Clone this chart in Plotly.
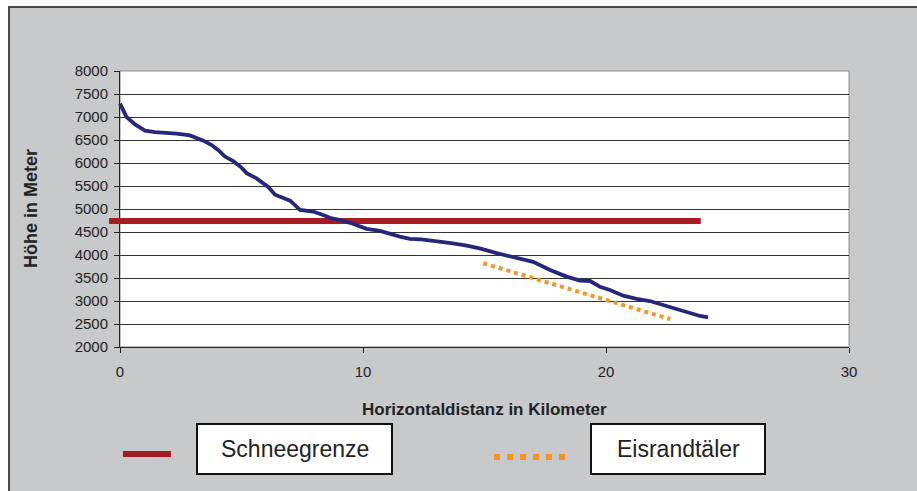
import plotly.graph_objects as go

W, H = 917, 491

# ---- data ----
dist_km = [0.0, 0.27, 0.62, 1.03, 1.44, 1.9, 2.33, 2.88, 3.43, 3.77, 4.05, 4.32, 4.66,
           5.0, 5.21, 5.62, 5.9, 6.1, 6.38, 6.7, 7.0, 7.41, 7.95, 8.3, 8.64, 9.05,
           9.47, 10.15, 10.7, 11.52, 11.93, 12.4, 12.9, 13.7, 14.27, 14.8, 15.5,
           16.3, 17.0, 17.7, 18.38, 18.93, 19.34, 19.75, 20.16, 20.71, 21.26,
           21.8, 22.36, 22.9, 23.46, 23.87, 24.2]
hoehe_m = [7290, 7000, 6840, 6705, 6670, 6665, 6640, 6600, 6485, 6390, 6280, 6140, 6040,
           5900, 5780, 5665, 5560, 5480, 5310, 5250, 5180, 4980, 4945, 4880, 4810, 4760,
           4700, 4570, 4525, 4400, 4350, 4340, 4315, 4255, 4205, 4145, 4040,
           3945, 3850, 3675, 3530, 3445, 3435, 3310, 3240, 3115, 3045,
           3000, 2915, 2825, 2730, 2675, 2645]

schnee_x = [-0.45, 23.9]
schnee_y = [4740, 4740]

eis_x = [14.95, 22.65]
eis_y = [3820, 2605]

x_ticks = [0, 10, 20, 30]
y_ticks = [2000, 2500, 3000, 3500, 4000, 4500, 5000, 5500, 6000, 6500, 7000, 7500, 8000]

x_title = "Horizontaldistanz in Kilometer"
y_title = "Höhe in Meter"
legend_names = ["Schneegrenze", "Eisrandtäler"]

# ---- colours / layout ----
BLUE = "#25287a"
RED = "#a61c24"
ORANGE = "#f7941d"
GRAY = "#c8c9cb"
FONT = "Liberation Sans, Arial, sans-serif"

PL, PR, PT, PB = 120, 849, 71, 347
EXT = 12  # px the Schneegrenze line reaches left of the y axis


def fx(p):
    return p / W


def fy(p):
    return 1 - p / H


kx = (PR - PL) / 30.0
fig = go.Figure()

# dummy trace so the visible xy subplot exists
fig.add_trace(go.Scatter(x=[None], y=[None], xaxis="x", yaxis="y",
                         showlegend=False, hoverinfo="skip"))

fig.add_trace(go.Scatter(x=schnee_x, y=schnee_y, mode="lines", name=legend_names[0],
                         line=dict(color=RED, width=6), xaxis="x2", yaxis="y2",
                         showlegend=False))
fig.add_trace(go.Scatter(x=eis_x, y=eis_y, mode="lines", name=legend_names[1],
                         line=dict(color=ORANGE, width=4, dash="dot"),
                         xaxis="x2", yaxis="y2", showlegend=False))
fig.add_trace(go.Scatter(x=dist_km, y=hoehe_m, mode="lines", name="Profil",
                         line=dict(color=BLUE, width=3.8), xaxis="x2", yaxis="y2",
                         showlegend=False))

axis_font = dict(family=FONT, size=15, color="#222222")

fig.update_layout(
    width=W, height=H,
    margin=dict(l=0, r=0, t=0, b=0, pad=0, autoexpand=False),
    paper_bgcolor="white",
    plot_bgcolor="rgba(0,0,0,0)",
    showlegend=False,
    xaxis=dict(domain=[fx(PL), fx(PR)], range=[0, 30], tickvals=x_ticks,
               showgrid=False, zeroline=False, showline=True, linecolor="#222222",
               linewidth=1, ticks="outside", ticklen=5, tickcolor="#222222",
               tickfont=axis_font, anchor="y", ticklabelstandoff=6, automargin=False),
    yaxis=dict(domain=[fy(PB), fy(PT)], range=[2000, 8000], tickvals=y_ticks,
               showgrid=True, gridcolor="#333333", gridwidth=1, zeroline=False,
               showline=True, linecolor="#222222", linewidth=1, ticks="outside",
               ticklen=5, tickcolor="#222222", tickfont=axis_font, anchor="x",
               ticklabelstandoff=3, automargin=False),
    xaxis2=dict(domain=[fx(PL - EXT), fx(PR)], range=[-EXT / kx, 30], visible=False,
                anchor="y2", fixedrange=True, automargin=False),
    yaxis2=dict(domain=[fy(PB), fy(PT)], range=[2000, 8000], visible=False,
                anchor="x2", fixedrange=True, automargin=False),
)

shapes = [
    # grey chart frame
    dict(type="rect", xref="paper", yref="paper", x0=fx(9), x1=fx(W + 20),
         y0=fy(H + 20), y1=fy(7), fillcolor=GRAY,
         line=dict(color="#4a4a4a", width=2), layer="below"),
    # white plot area
    dict(type="rect", xref="x domain", yref="y domain", x0=0, x1=1, y0=0, y1=1,
         fillcolor="white", line=dict(color="#8c8c8c", width=1), layer="below"),
    # legend samples
    dict(type="line", xref="paper", yref="paper", x0=fx(123), x1=fx(171),
         y0=fy(454), y1=fy(454), line=dict(color=RED, width=6)),
    dict(type="line", xref="paper", yref="paper", x0=fx(494), x1=fx(568),
         y0=fy(457), y1=fy(457), line=dict(color=ORANGE, width=6, dash="6px,7px")),
    # legend boxes
    dict(type="rect", xref="paper", yref="paper", x0=fx(197), x1=fx(392),
         y0=fy(474), y1=fy(424), fillcolor="white", line=dict(color="#111111", width=2)),
    dict(type="rect", xref="paper", yref="paper", x0=fx(591), x1=fx(765),
         y0=fy(474), y1=fy(424), fillcolor="white", line=dict(color="#111111", width=2)),
]
fig.update_layout(shapes=shapes)

ann = [
    dict(text=x_title, x=fx((PL + PR) / 2), y=fy(409), xref="paper", yref="paper",
         showarrow=False, xanchor="center", yanchor="middle",
         font=dict(family=FONT, size=17, color="#222222", weight="bold")),
    dict(text=y_title, x=fx(31), y=fy((PT + PB) / 2), xref="paper", yref="paper",
         showarrow=False, xanchor="center", yanchor="middle", textangle=-90,
         font=dict(family=FONT, size=18, color="#222222", weight="bold")),
    dict(text=legend_names[0], x=fx(294.5), y=fy(449), xref="paper", yref="paper",
         showarrow=False, xanchor="center", yanchor="middle",
         font=dict(family=FONT, size=23, color="#222222")),
    dict(text=legend_names[1], x=fx(678), y=fy(449), xref="paper", yref="paper",
         showarrow=False, xanchor="center", yanchor="middle",
         font=dict(family=FONT, size=23, color="#222222")),
]
fig.update_layout(annotations=ann)

fig.write_html("out.html",
               config={"displayModeBar": False},
               post_script="document.body.style.margin='0';"
                           "document.body.style.overflow='hidden';")
